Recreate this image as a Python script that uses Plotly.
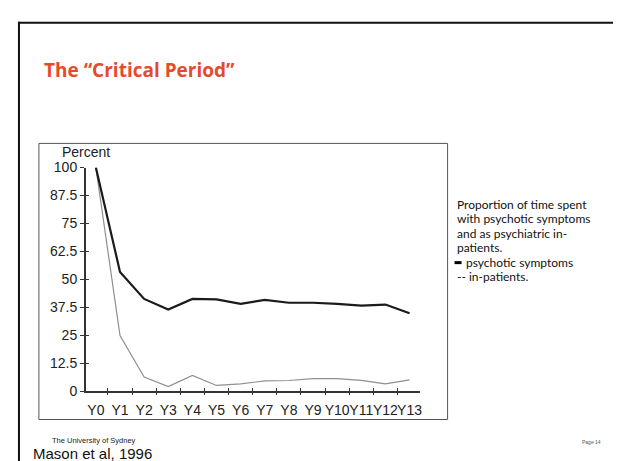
import plotly.graph_objects as go

years = ["Y0", "Y1", "Y2", "Y3", "Y4", "Y5", "Y6", "Y7", "Y8", "Y9", "Y10", "Y11", "Y12", "Y13"]
psychotic = [100, 53.3, 41.2, 36.5, 41.2, 41.0, 39.0, 40.8, 39.5, 39.5, 39.0, 38.2, 38.7, 34.8]
inpatients = [100, 24.8, 6.3, 2.0, 7.0, 2.5, 3.2, 4.5, 4.7, 5.5, 5.5, 4.8, 3.2, 5.0]
y_ticks = [0, 12.5, 25, 37.5, 50, 62.5, 75, 87.5, 100]
y_labels = ["0", "12.5", "25", "37.5", "50", "62.5", "75", "87.5", "100"]

W, H = 621, 461
def px(x):
    return x / W
def py(y):
    return 1 - y / H

xpos = list(range(len(years)))
mid_ticks = [i + 0.5 for i in range(len(years) - 1)]

fig = go.Figure()
fig.add_trace(go.Scatter(x=xpos, y=inpatients, mode="lines",
                         line=dict(color="#8f8f8f", width=1.2), name="in-patients"))
fig.add_trace(go.Scatter(x=xpos, y=psychotic, mode="lines",
                         line=dict(color="#1a1a1a", width=2.2), name="psychotic symptoms"))
# empty helper traces so overlay axes are drawn
fig.add_trace(go.Scatter(x=[], y=[], xaxis="x2", yaxis="y", showlegend=False))
fig.add_trace(go.Scatter(x=[], y=[], xaxis="x3", yaxis="y", showlegend=False))
fig.add_trace(go.Scatter(x=[], y=[], xaxis="x", yaxis="y2", showlegend=False))

xdom = [px(78), px(413)]
ydom = [py(388.5), py(157)]
xr = [-0.42, 13.42]
tickfont = dict(family="Liberation Sans, Arial", size=14, color="#222")

fig.update_layout(
    width=W, height=H,
    margin=dict(l=0, r=0, t=0, b=0),
    paper_bgcolor="white", plot_bgcolor="white",
    showlegend=False,
    xaxis=dict(domain=xdom, range=xr, tickmode="array", tickvals=xpos, ticktext=years,
               ticks="outside", ticklen=5, tickcolor="rgba(0,0,0,0)", tickangle=0,
               showline=True, linecolor="#333", linewidth=1.5, showgrid=False,
               zeroline=False, tickfont=tickfont, anchor="y"),
    xaxis2=dict(domain=xdom, range=xr, overlaying="x", anchor="y", tickmode="array",
                tickvals=mid_ticks, ticks="outside", ticklen=3, tickcolor="#333",
                tickwidth=1.3, showticklabels=False, showline=False, showgrid=False,
                zeroline=False, side="bottom"),
    xaxis3=dict(domain=xdom, range=xr, overlaying="x", anchor="y", tickmode="array",
                tickvals=mid_ticks, ticks="inside", ticklen=3, tickcolor="#333",
                tickwidth=1.3, showticklabels=False, showline=False, showgrid=False,
                zeroline=False, side="bottom"),
    yaxis=dict(domain=ydom, range=[0, 100], tickmode="array", tickvals=y_ticks,
               ticktext=y_labels, ticks="outside", ticklen=4, tickcolor="#333",
               tickwidth=1.3, showline=True, linecolor="#333", linewidth=1.5,
               showgrid=False, zeroline=False, tickfont=tickfont, anchor="x"),
    yaxis2=dict(domain=ydom, range=[0, 100], overlaying="y", anchor="x", tickmode="array",
                tickvals=y_ticks, ticks="inside", ticklen=3, tickcolor="#333",
                tickwidth=1.3, showticklabels=False, showline=False, showgrid=False,
                zeroline=False, side="left"),
)

shapes = [
    # slide frame
    dict(type="line", xref="paper", yref="paper", x0=px(10), x1=px(621), y0=py(7), y1=py(7),
         line=dict(color="#111", width=2)),
    dict(type="line", xref="paper", yref="paper", x0=px(11), x1=px(11), y0=py(6), y1=py(470),
         line=dict(color="#111", width=2)),
    dict(type="line", xref="paper", yref="paper", x0=px(619.5), x1=px(619.5), y0=py(6), y1=py(470),
         line=dict(color="#111", width=3)),
    # chart box
    dict(type="rect", xref="paper", yref="paper", x0=px(31), x1=px(441), y0=py(418), y1=py(132),
         line=dict(color="#555", width=1)),
    # legend dash
    dict(type="line", xref="paper", yref="paper", x0=px(448), x1=px(455), y0=py(255.5), y1=py(255.5),
         line=dict(color="#000", width=3)),
]
fig.update_layout(shapes=shapes)

body = dict(family="Lato, Open Sans, sans-serif", size=12, color="#111")
anns = [
    dict(text="<b>The \u201cCritical Period\u201d</b>", x=px(34), y=py(56), xanchor="left", yanchor="middle",
         font=dict(family="Open Sans, sans-serif", size=19, color="#E34B2C")),
    dict(text="Percent", x=px(52), y=py(141), xanchor="left", yanchor="middle",
         font=dict(family="Liberation Sans, Arial", size=14, color="#222")),
    dict(text="Proportion of time spent", x=px(448), y=py(195), xanchor="left", yanchor="middle", font=body),
    dict(text="with psychotic symptoms", x=px(448), y=py(210), xanchor="left", yanchor="middle", font=body),
    dict(text="and as psychiatric in-", x=px(448), y=py(225), xanchor="left", yanchor="middle", font=body),
    dict(text="patients.", x=px(448), y=py(240), xanchor="left", yanchor="middle", font=body),
    dict(text="psychotic symptoms", x=px(457), y=py(255), xanchor="left", yanchor="middle", font=body),
    dict(text="-- in-patients.", x=px(448), y=py(270), xanchor="left", yanchor="middle", font=body),
    dict(text="The University of Sydney", x=px(42), y=py(440), xanchor="left", yanchor="middle",
         font=dict(family="Liberation Sans, Arial", size=7.5, color="#222")),
    dict(text="Mason et al, 1996", x=px(23), y=py(453.5), xanchor="left", yanchor="middle",
         font=dict(family="Liberation Sans, Arial", size=15, color="#111")),
    dict(text="Page 14", x=px(574), y=py(441), xanchor="left", yanchor="middle",
         font=dict(family="Liberation Sans, Arial", size=5, color="#555")),
]
for a in anns:
    a.update(xref="paper", yref="paper", showarrow=False)
fig.update_layout(annotations=anns)

fig.write_html("out.html")
